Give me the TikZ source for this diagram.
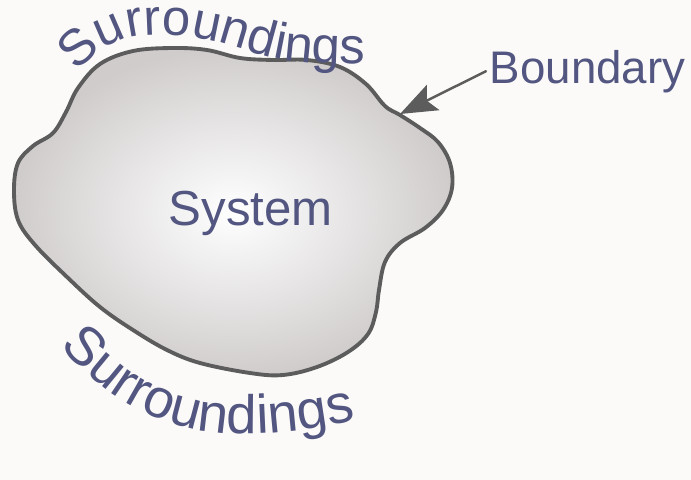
\documentclass[tikz,border=0pt]{standalone}
\usepackage{fontspec}
\setmainfont{Liberation Sans}
\usetikzlibrary{arrows.meta,decorations.text,positioning}
\definecolor{labelblue}{RGB}{82,86,128}
\definecolor{edgegray}{RGB}{92,92,92}
\definecolor{blobgray}{RGB}{208,204,204}
\definecolor{paper}{RGB}{251,250,249}

\begin{document}
\begin{tikzpicture}[x=0.02cm,y=-0.02cm,>=Stealth,line join=round,line cap=round,
    lbl/.style={text=labelblue,font=\fontsize{28}{30}\selectfont,inner sep=2pt},
    curvelbl/.style={decorate,decoration={text along path,text color=labelblue,
        text={|\fontsize{#1}{30}\selectfont|Surroundings}}}]
    \fill[paper] (0,0) rectangle (691,480);
    \useasboundingbox (0,0) rectangle (691,480);
    % the system and its boundary
    \shadedraw[inner color=white,outer color=blobgray,draw=edgegray,line width=2.2pt]
      plot[smooth cycle,tension=0.6] coordinates {(400,115) (420,128) (438,142) (450,163)
      (452,188) (443,210) (425,228) (400,243) (385,262) (379,290) (376,312) (368,334)
      (348,352) (317,367) (283,375) (250,373) (200,363) (167,350) (133,330) (100,307)
      (67,277) (35,245) (18,220) (14,190) (18,163) (33,146) (53,133) (66,112) (78,88)
      (100,64) (133,51) (173,48) (207,50) (240,58) (273,60) (307,60) (340,67) (366,84)
      (385,106)};
    \node[lbl,anchor=base west] (sys) at (165,225) {System};
    \node[lbl,anchor=base west,font=\fontsize{26}{30}\selectfont] (bnd) at (486,83) {Boundary};
    \coordinate (tip) at (400,114);
    \draw[edgegray,line width=1.4pt,-{Stealth[length=21pt,width=16pt,inset=4pt]}] (bnd.west) -- (tip);
    % surroundings, written along the outline
    \path[curvelbl=29] (77,72) .. controls (103,42) and (130,32) .. (175,35)
      .. controls (225,38) and (255,59) .. (305,62) .. controls (345,64) and (375,64) .. (435,64);
    \path[curvelbl=31] (60,346) .. controls (102,393) and (152,428) .. (222,433)
      .. controls (272,436) and (322,430) .. (410,408);
  \end{tikzpicture}
\end{document}
